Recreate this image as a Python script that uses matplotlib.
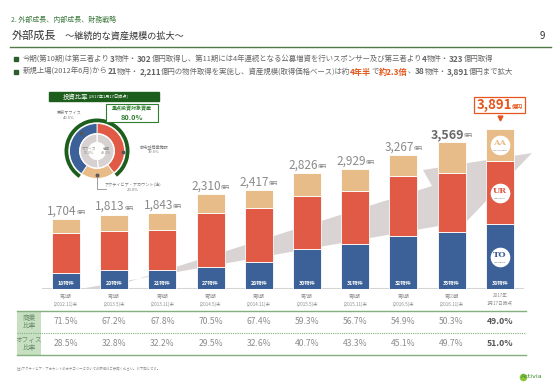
import matplotlib
matplotlib.use("Agg")
import matplotlib.pyplot as plt
from matplotlib.patches import Rectangle, Polygon
from matplotlib.transforms import blended_transform_factory, offset_copy, IdentityTransform, Bbox

plt.rcParams["font.family"] = ["Noto Sans CJK JP", "DejaVu Sans"]

# 決算期ごとの資産規模（億円）
periods = ["第2期\n(2012.11)末", "第3期\n(2013.5)末", "第4期\n(2013.11)末", "第5期\n(2014.5)末",
           "第6期\n(2014.11)末", "第7期\n(2015.5)末", "第8期\n(2015.11)末", "第9期\n(2016.5)末",
           "第10期\n(2016.11)末", "2017年\n1月17日時点"]
counts = [18, 20, 21, 27, 28, 30, 31, 32, 35, 38]
totals = [1704, 1813, 1843, 2310, 2417, 2826, 2929, 3267, 3569, 3891]
tokyo_office = [389, 462, 462, 543, 650, 966, 1088, 1290, 1380, 1576]
urban_retail = [974, 957, 981, 1314, 1314, 1305, 1305, 1460, 1451, 1541]
activia_account = [341, 394, 400, 453, 453, 555, 536, 517, 738, 774]

retail_ratio = [71.5, 67.2, 67.8, 70.5, 67.4, 59.3, 56.7, 54.9, 50.3, 49.0]
office_ratio = [28.5, 32.8, 32.2, 29.5, 32.6, 40.7, 43.3, 45.1, 49.7, 51.0]

# 投資比率（2017年1月17日時点）
pie_labels = ["都市型商業施設", "アクティビア・アカウント", "東京オフィス"]
pie_share = [39.6, 20.0, 40.5]
focus_share = [80.0, 20.0]
use_share = [49.0, 51.0]

BLUE = "#3c6098"
RED = "#e05a45"
TAN = "#e8bc88"
GREY = "#8a8a8a"
DGREEN = "#1d5e1d"
ORANGE = "#e4561e"

fig = plt.figure(figsize=(5.6, 3.88), dpi=100)

# 背景（ピクセル座標）
bg = fig.add_axes([0, 0, 1, 1], zorder=0)
bg.set_xlim(0, 560)
bg.set_ylim(388, 0)
bg.axis("off")

# 見出し
bg.text(11, 19.5, "2. 外部成長、内部成長、財務戦略", fontsize=5, color="#3f7a3f", va="center")
t = bg.text(12, 36, "外部成長", fontsize=8, color="#333333", va="center")
bg.annotate("　～継続的な資産規模の拡大～", xy=(1, 0.5), xycoords=t, va="center",
            fontsize=6.6, color="#333333")
bg.text(545, 36, "9", fontsize=7, color="#333333", va="center", ha="right")
bg.plot([10, 551], [47, 47], color="#4f7a45", lw=1)

# 箇条書き
N, B, O = ("n", "b", "o")
bullets = [
    [("今期(第10期)は第三者より", N), ("3", B), ("物件・", N), ("302", B),
     ("億円取得し、第11期には4年連続となる公募増資を行いスポンサー及び第三者より", N),
     ("4", B), ("物件・", N), ("323", B), ("億円取得", N)],
    [("新規上場(2012年6月)から", N), ("21", B), ("物件・", N), ("2,211", B),
     ("億円の物件取得を実施し、資産規模(取得価格ベース)は約", N), ("4年半", O), ("で", N),
     ("約2.3倍", O), ("、", N), ("38", B), ("物件・", N), ("3,891", B), ("億円まで拡大", N)],
]
for row, pieces in zip([59, 72], bullets):
    bg.add_patch(Rectangle((13.5, row - 2), 4, 4, color="#2b5e2b"))
    prev = None
    for s, kind in pieces:
        kw = dict(fontsize=5.35, color="#666666", va="center")
        if kind == B:
            kw.update(fontsize=5.9, weight="bold", color="#666666")
        elif kind == O:
            kw.update(fontsize=5.9, weight="bold", color=ORANGE)
        if prev is None:
            prev = bg.text(23, row, s, **kw)
        else:
            prev = bg.annotate(s, xy=(1, 0.5), xycoords=prev, **kw)

# 矢印（背景装飾）
bg.add_patch(Polygon([(80, 289), (467, 221), (532, 153), (423, 170), (432, 186), (106, 289)],
                     closed=True, color="#dad3d3", lw=0))

# 棒グラフ
scale = 0.04108  # px / 億円
ymax = 4700
ax = fig.add_axes([41.9 / 560, 99 / 388, 482 / 560, ymax * scale / 388], zorder=1)
ax.patch.set_alpha(0)
x = list(range(len(totals)))
w = 0.58
ekw = dict(edgecolor="white", linewidth=0.6)
ax.bar(x, tokyo_office, w, color=BLUE, **ekw)
ax.bar(x, urban_retail, w, bottom=tokyo_office, color=RED, **ekw)
b3 = [a + b for a, b in zip(tokyo_office, urban_retail)]
ax.bar(x, activia_account, w, bottom=b3, color=TAN, **ekw)
ax.set_xlim(-0.5, 9.5)
ax.set_ylim(0, ymax)
ax.axhline(0, color="#d4d4d4", lw=1.5, zorder=0)
for sp in ax.spines.values():
    sp.set_visible(False)
ax.set_yticks([])
ax.set_xticks(x)
ax.set_xticklabels(periods, fontsize=3.3, color="#8c8c8c", linespacing=1.7)
ax.tick_params(axis="x", length=0, pad=3)

for i, (c, tot) in enumerate(zip(counts, totals)):
    ax.annotate(f"{c}物件", xy=(i, 0), xytext=(0, 2.5), textcoords="offset points",
                ha="center", va="bottom", fontsize=3.8, color="white", weight="bold")
    if i == len(totals) - 1:
        num = ax.annotate(f"{tot:,}", xy=(i, tot), xytext=(-4, 12), textcoords="offset points",
                          ha="center", va="bottom", fontsize=9.5, color=ORANGE, weight="bold")
        unit = ax.annotate("億円", xy=(1, 0.2), xycoords=num, ha="left", va="bottom",
                           fontsize=4, color=ORANGE, weight="bold")
        ax.plot([i], [tot], marker="v", markersize=3.5, color=ORANGE, clip_on=False,
                transform=offset_copy(ax.transData, fig=fig, y=8.3, units="points"))
    else:
        bold = i == len(totals) - 2
        num = ax.annotate(f"{tot:,}", xy=(i, tot), xytext=(-3, 1), textcoords="offset points",
                          ha="center", va="bottom", fontsize=8.5 if not bold else 9,
                          color="#6a6a6a" if bold else GREY, weight="bold" if bold else "normal")
        ax.annotate("億円", xy=(1, 0.2), xycoords=num, ha="left", va="bottom",
                    fontsize=3.3, color=GREY)

# 最新期の棒にロゴ
last = len(totals) - 1
logos = [("TO", tokyo_office[last] / 2, BLUE, "TOKYO OFFICE"),
         ("UR", b3[last] - urban_retail[last] / 2, RED, "URBAN RETAIL"),
         ("AA", totals[last] - activia_account[last] / 2, TAN, "ACTIVIA ACCOUNT")]
for txt, yv, col, sub in logos:
    ax.scatter([last], [yv], s=200, color="white", zorder=3, lw=0)
    ax.text(last, yv, txt, fontsize=6, color=col, ha="center", va="center", zorder=4,
            family="DejaVu Serif", weight="bold",
            transform=offset_copy(ax.transData, fig=fig, y=1.2, units="points"))
    ax.text(last, yv, sub, fontsize=1.2, color="#555555", ha="center", va="center", zorder=4,
            transform=offset_copy(ax.transData, fig=fig, y=-4, units="points"))

# 円グラフ
pax = fig.add_axes([(97 - 35) / 560, (388 - 151 - 35) / 388, 70 / 560, 70 / 388], zorder=2)
pax.pie(pie_share, colors=[RED, TAN, BLUE], radius=27.5, startangle=90, counterclock=False,
        wedgeprops=dict(width=10, edgecolor="white", linewidth=0.6))
pax.pie(focus_share, colors=[DGREEN, "none"], radius=32.5,
        startangle=90 + pie_share[2] * 3.6, counterclock=False,
        wedgeprops=dict(width=3.8, linewidth=0))
pax.pie(use_share, colors=["#d8d1d1", "#d8d1d1"], radius=17, startangle=90, counterclock=False,
        wedgeprops=dict(width=8.5, edgecolor="white", linewidth=0.8))
pax.set_xlim(-35, 35)
pax.set_ylim(-35, 35)
pax.set_aspect("equal")
pax.axis("off")

plk = dict(fontsize=3.0, color="#777777", ha="center", va="center", linespacing=1.3)
bg.text(69, 115, f"{pie_labels[2]}\n{pie_share[2]:.1f}%", **plk)
bg.text(154, 149, f"{pie_labels[0]}\n{pie_share[0]:.1f}%", **plk)
bg.text(133, 187, f"{pie_labels[1]}(注)\n{pie_share[1]:.1f}%", **plk)
ov = fig.add_axes([0, 0, 1, 1], zorder=3)
ov.set_xlim(0, 560)
ov.set_ylim(388, 0)
ov.axis("off")
ov.plot([81, 123, 97], [133, 152, 175], "o", color="#555555", markersize=1.8)
ov.plot([97, 97, 106], [175, 189, 189], color="#777777", lw=0.5)
ik = dict(fontsize=2.6, color="#8a8a8a", ha="center", va="center", linespacing=1.3)
ov.text(89, 151, f"オフィス\n{use_share[1]:.1f}%", **ik)
ov.text(106, 151, f"商業\n{use_share[0]:.1f}%", **ik)

# 投資比率の見出しと重点投資対象資産
ov.add_patch(Rectangle((49, 92), 110, 8.5, color=DGREEN))
h = ov.text(63, 96.5, "投資比率", fontsize=4.6, color="white", va="center")
ov.annotate("[2017年1月17日時点]", xy=(1, 0.5), xycoords=h, va="center", fontsize=3.0, color="white")
ov.add_patch(Rectangle((106, 104), 52, 18, facecolor="white", edgecolor="#2f7d2f", lw=0.8))
ov.text(132, 109, "重点投資対象資産", fontsize=3.6, color="#2f7d2f", ha="center", va="center",
        weight="bold")
ov.text(132, 117, f"{focus_share[0]:.1f}%", fontsize=5.2, color="#2f7d2f", ha="center",
        va="center", weight="bold")

# 比率の表
tb = blended_transform_factory(ax.transData, bg.transData)
bg.add_patch(Rectangle((17, 311), 24, 44, color="#c6e0c1", lw=0))
bg.plot([17, 526], [311, 311], color="#84b07f", lw=1)
bg.plot([17, 526], [333, 333], color="#84b07f", lw=0.8, ls=(0, (1, 1)))
bg.plot([17, 526], [355, 355], color="#84b07f", lw=1)
bg.text(29, 322, "商業\n比率", fontsize=4.8, color="#6f8f6f", ha="center", va="center", linespacing=1.1)
bg.text(29, 344, "オフィス\n比率", fontsize=4.8, color="#6f8f6f", ha="center", va="center", linespacing=1.1)
for i, (r, o) in enumerate(zip(retail_ratio, office_ratio)):
    bold = i == len(retail_ratio) - 1
    kw = dict(fontsize=6.2, ha="center", va="center", transform=tb,
              color="#555555" if bold else "#8c8c8c", weight="bold" if bold else "normal")
    bg.text(i, 322, f"{r:.1f}%", **kw)
    bg.text(i, 344, f"{o:.1f}%", **kw)

bg.text(17, 369, "(注)アクティビア・アカウントのカテゴリーについての詳細はご参照ください。以下同じです。",
        fontsize=2.4, color="#8c8c8c", va="center")
bg.plot([523], [377], "o", color="#8cc63f", markersize=4.5)
bg.text(521, 377, "Activia", fontsize=4.6, color="#3d8a2f", va="center", family="DejaVu Sans")

# 最新期ラベルの枠
fig.canvas.draw()
bb = Bbox.union([num.get_window_extent(), unit.get_window_extent()])
fig.add_artist(Rectangle((bb.x0 - 2, bb.y0 - 1), bb.width + 4, bb.height + 2,
                         facecolor="none", edgecolor=ORANGE, lw=0.9,
                         transform=IdentityTransform()))

fig.savefig("out.png", dpi=100)
